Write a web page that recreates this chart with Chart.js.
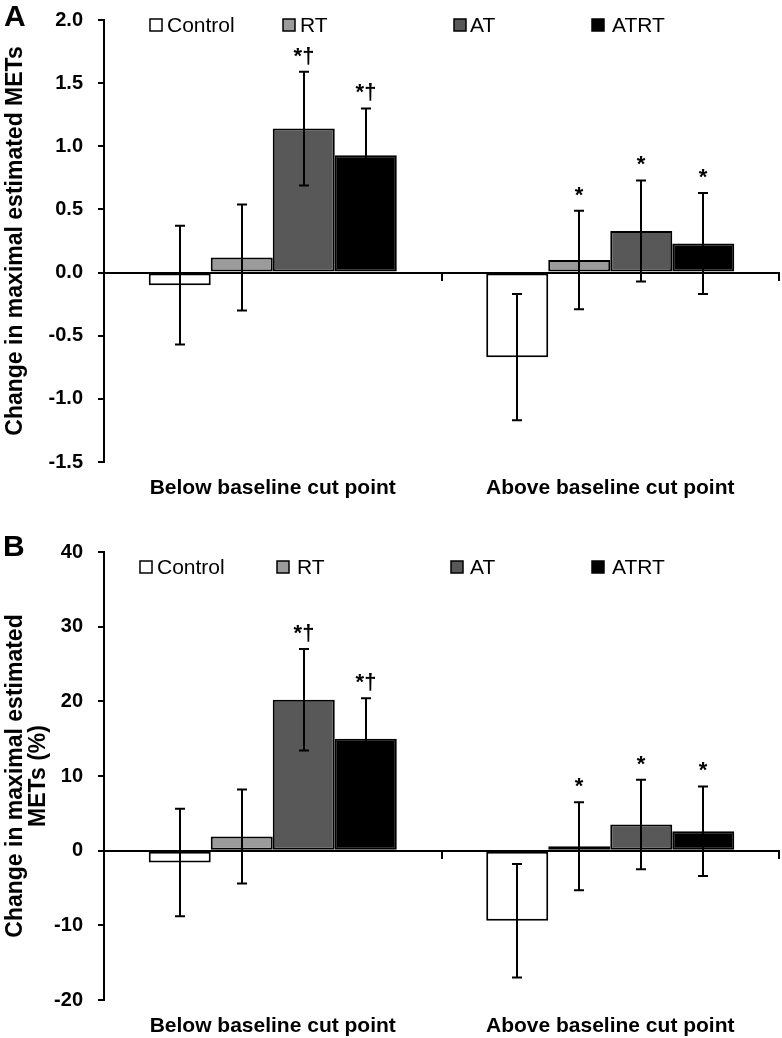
<!DOCTYPE html>
<html><head><meta charset="utf-8">
<script src="https://cdn.jsdelivr.net/npm/chart.js@4.4.0/dist/chart.umd.min.js"></script>
<style>
html,body{margin:0;padding:0;background:#fff;}
#wrap{position:relative;width:782px;height:1038px;}
.box{position:absolute;left:0;width:782px;height:519px;}
</style></head><body>
<div id="wrap">
<div class="box" style="top:0"><canvas id="cA"></canvas></div>
<div class="box" style="top:519px"><canvas id="cB"></canvas></div>
</div>
<script>
// ---------- data ----------
const categories = ['Below baseline cut point', 'Above baseline cut point'];
const seriesNames = ['Control', 'RT', 'AT', 'ATRT'];
const seriesColors = ['#ffffff', '#9b9b9b', '#585858', '#000000'];

// Panel A: change in maximal estimated METs
const metsControl = [-0.10, -0.67];
const metsRT      = [0.12, 0.10];
const metsAT      = [1.14, 0.33];
const metsATRT    = [0.93, 0.23];
const metsErrControl = [0.47, 0.50];
const metsErrRT      = [0.42, 0.39];
const metsErrAT      = [0.45, 0.40];
const metsErrATRT    = [0.37, 0.40];

// Panel B: change in maximal estimated METs (%)
const pctControl = [-1.6, -9.4];
const pctRT      = [1.9, 0.6];
const pctAT      = [20.2, 3.5];
const pctATRT    = [15.0, 2.6];
const pctErrControl = [7.2, 7.6];
const pctErrRT      = [6.3, 5.9];
const pctErrAT      = [6.8, 6.0];
const pctErrATRT    = [5.4, 6.0];

// significance marks
const sigControl = ['', ''];
const sigRT      = ['', '*'];
const sigAT      = ['*\u2020', '*'];
const sigATRT    = ['*\u2020', '*'];

// axis ticks
const yTicksA = [-1.5, -1.0, -0.5, 0.0, 0.5, 1.0, 1.5, 2.0];
const yTicksB = [-20, -10, 0, 10, 20, 30, 40];

const FONT = '"Liberation Sans", Arial, Helvetica, sans-serif';

function makeChart(canvasId, p) {
  const datasets = seriesNames.map((name, i) => ({
    label: name,
    data: p.values[i],
    backgroundColor: seriesColors[i],
    borderColor: '#000',
    borderWidth: 2,
    borderSkipped: false,
    xAxisID: 'x',
    yAxisID: 'y',
    categoryPercentage: 0.735,
    barPercentage: 1.0
  }));

  const overlay = {
    id: 'overlay_' + canvasId,
    afterDatasetsDraw(chart) {
      const ctx = chart.ctx;
      const ys = chart.scales.y;
      ctx.save();
      ctx.strokeStyle = '#000';
      ctx.lineWidth = 2;
      chart.data.datasets.forEach((ds, i) => {
        const meta = chart.getDatasetMeta(i);
        meta.data.forEach((bar, j) => {
          const v = ds.data[j], e = p.errs[i][j];
          const yt = ys.getPixelForValue(v + e);
          const yb = ys.getPixelForValue(v - e);
          const x = Math.round(bar.x);
          ctx.beginPath();
          ctx.moveTo(x, yt); ctx.lineTo(x, yb);
          ctx.moveTo(x - 5, yt); ctx.lineTo(x + 5, yt);
          ctx.moveTo(x - 5, yb); ctx.lineTo(x + 5, yb);
          ctx.stroke();
          const s = p.sigs[i][j];
          if (s) {
            ctx.fillStyle = '#000';
            ctx.font = 'bold 22px ' + FONT;
            ctx.textAlign = 'center';
            ctx.textBaseline = 'alphabetic';
            ctx.fillText(s, x, yt - 9);
          }
        });
      });
      ctx.restore();
    },
    afterDraw(chart) {
      const ctx = chart.ctx;
      ctx.save();
      // legend
      ctx.font = '21px ' + FONT;
      ctx.textBaseline = 'middle';
      ctx.textAlign = 'left';
      seriesNames.forEach((name, i) => {
        const bx = p.legendBox[i], tx = p.legendText[i], ly = p.legendY;
        ctx.fillStyle = seriesColors[i];
        ctx.fillRect(bx, ly - 6, 12, 12);
        ctx.strokeStyle = '#000';
        ctx.lineWidth = 1.5;
        ctx.strokeRect(bx, ly - 6, 12, 12);
        ctx.fillStyle = '#000';
        ctx.fillText(name, tx, ly + 1);
      });
      // panel letter
      ctx.font = 'bold 30px ' + FONT;
      ctx.textBaseline = 'alphabetic';
      ctx.fillText(p.letter, p.letterX, p.letterY);
      ctx.restore();
    }
  };

  return new Chart(document.getElementById(canvasId), {
    type: 'bar',
    data: { labels: categories, datasets },
    plugins: [overlay],
    options: {
      responsive: true,
      maintainAspectRatio: false,
      animation: false,
      layout: { padding: { top: p.padTop, right: 3, bottom: p.padBottom, left: 0 } },
      plugins: { legend: { display: false }, tooltip: { enabled: false } },
      scales: {
        y: {
          position: 'left',
          min: p.yMin, max: p.yMax,
          afterBuildTicks: (s) => { s.ticks = p.yTicks.map(v => ({ value: v })); },
          afterFit: (s) => { s.width = 104; s.paddingTop = 0; s.paddingBottom = 0; },
          border: { display: true, color: '#000', width: 2 },
          grid: { display: true, drawOnChartArea: false, drawTicks: true, tickLength: 6, color: '#000', lineWidth: 2 },
          ticks: {
            color: '#000', padding: 15,
            font: { family: FONT, size: 20, weight: 'bold' },
            callback: (v) => Number(v).toFixed(p.decimals)
          },
          title: {
            display: true, text: p.title, color: '#000',
            font: { family: FONT, size: 23, weight: 'bold', lineHeight: 1.0 },
            padding: { top: 4, bottom: 0 }
          }
        },
        x: {
          type: 'category',
          position: { y: 0 },
          offset: true,
          border: { display: true, color: '#000', width: 2 },
          grid: { display: true, offset: true, drawOnChartArea: false, drawTicks: true, tickLength: 7, color: '#000', lineWidth: 2 },
          ticks: { display: false }
        },
        x2: {
          type: 'category',
          position: 'bottom',
          labels: categories,
          offset: true,
          afterFit: (s) => { s.height = 36; },
          border: { display: false },
          grid: { display: false, drawTicks: false },
          ticks: {
            color: '#000', padding: 14, maxRotation: 0, autoSkip: false,
            font: { family: FONT, size: 21, weight: 'bold' }
          }
        }
      }
    }
  });
}

makeChart('cA', {
  values: [metsControl, metsRT, metsAT, metsATRT],
  errs: [metsErrControl, metsErrRT, metsErrAT, metsErrATRT],
  sigs: [sigControl, sigRT, sigAT, sigATRT],
  yMin: -1.5, yMax: 2.0, yTicks: yTicksA, decimals: 1,
  title: 'Change in maximal estimated METs',
  padTop: 20, padBottom: 21,
  legendBox: [150, 283, 454, 592], legendText: [167, 300, 470, 612], legendY: 25,
  letter: 'A', letterX: 4, letterY: 26
});

makeChart('cB', {
  values: [pctControl, pctRT, pctAT, pctATRT],
  errs: [pctErrControl, pctErrRT, pctErrAT, pctErrATRT],
  sigs: [sigControl, sigRT, sigAT, sigATRT],
  yMin: -20, yMax: 40, yTicks: yTicksB, decimals: 0,
  title: ['Change in maximal estimated', 'METs (%)'],
  padTop: 33, padBottom: 2,
  legendBox: [140, 277, 451, 592], legendText: [157, 297, 470, 612], legendY: 48,
  letter: 'B', letterX: 3, letterY: 37
});
</script>
</body></html>
